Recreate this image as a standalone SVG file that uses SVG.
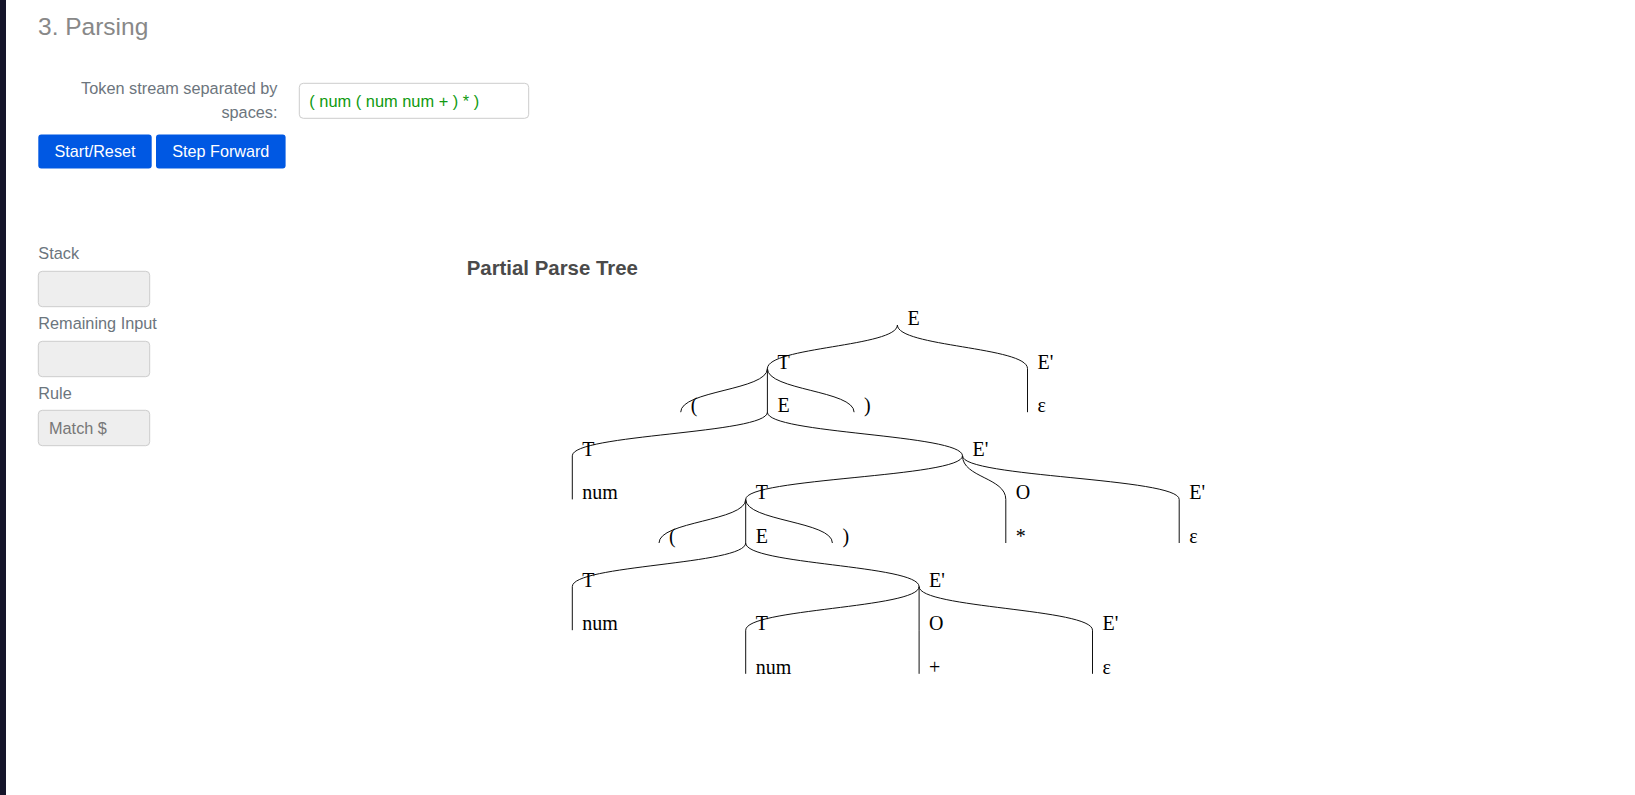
<svg xmlns="http://www.w3.org/2000/svg" width="1635" height="795" viewBox="0 0 1635 795">
<style>
.lbl{font-family:"Liberation Sans",Arial,sans-serif;font-size:16.3px;fill:#6c757d}
.box{fill:#eeeeee;stroke:#cccccc;stroke-width:1}
.btn rect{fill:#0058e3}
.btn text{font-family:"Liberation Sans",Arial,sans-serif;font-size:16.2px;fill:#ffffff;text-anchor:middle}
.node text{font-family:"Liberation Serif","Times New Roman",serif;font-size:20px;fill:#000000}
.link{fill:none;stroke:#111111;stroke-width:1}
</style>
<rect x="0" y="0" width="1635" height="795" fill="#ffffff"/>
<rect x="0" y="0" width="6" height="795" fill="#15152a"/>

<g id="header">
<text x="38" y="34.5" style="font-family:'Liberation Sans',Arial,sans-serif;font-size:24.5px;fill:#888888">3. Parsing</text>
<text class="lbl" x="277.5" y="94" text-anchor="end">Token stream separated by</text>
<text class="lbl" x="277.5" y="118" text-anchor="end">spaces:</text>
<rect x="299.3" y="83.3" width="229.4" height="35" rx="4" fill="#ffffff" stroke="#cccccc"/>
<text x="309.3" y="107" style="font-family:'Liberation Sans',Arial,sans-serif;font-size:16.4px;fill:#109a10">( num ( num num + ) * )</text>
</g>
<g id="btn-start" class="btn">
<rect x="38.3" y="134.5" width="113.4" height="34" rx="3"/>
<text x="95" y="157.2">Start/Reset</text>
</g>
<g id="btn-step" class="btn">
<rect x="156" y="134.5" width="129.6" height="34" rx="3"/>
<text x="220.8" y="157.2">Step Forward</text>
</g>

<g id="panel">
<text class="lbl" x="38.3" y="259.3">Stack</text>
<rect class="box" x="38.3" y="271.3" width="111.4" height="35.4" rx="4"/>
<text class="lbl" x="38.3" y="329.3">Remaining Input</text>
<rect class="box" x="38.3" y="341.3" width="111.4" height="35.4" rx="4"/>
<text class="lbl" x="38.3" y="399.3">Rule</text>
<rect class="box" x="38.3" y="410.3" width="111.4" height="35.4" rx="4"/>
<text x="49" y="433.5" style="font-family:'Liberation Sans',Arial,sans-serif;font-size:16.3px;fill:#777777">Match $</text>
</g>

<text x="466.7" y="275" style="font-family:'Liberation Sans',Arial,sans-serif;font-size:20.4px;font-weight:bold;fill:#4a4a4a">Partial Parse Tree</text>

<g id="links">
<path class="link" d="M897.4,325C897.4,346.8 767.4,346.8 767.4,368.6"/>
<path class="link" d="M897.4,325C897.4,346.8 1027.5,346.8 1027.5,368.6"/>
<path class="link" d="M767.4,368.6C767.4,390.4 680.7,390.4 680.7,412.2"/>
<path class="link" d="M767.4,368.6L767.4,412.2"/>
<path class="link" d="M767.4,368.6C767.4,390.4 854.1,390.4 854.1,412.2"/>
<path class="link" d="M1027.5,368.6L1027.5,412.2"/>
<path class="link" d="M767.4,412.2C767.4,434 572.3,434 572.3,455.8"/>
<path class="link" d="M767.4,412.2C767.4,434 962.5,434 962.5,455.8"/>
<path class="link" d="M572.3,455.8L572.3,499.4"/>
<path class="link" d="M962.5,455.8C962.5,477.6 745.7,477.6 745.7,499.4"/>
<path class="link" d="M962.5,455.8C962.5,477.6 1005.8,477.6 1005.8,499.4"/>
<path class="link" d="M962.5,455.8C962.5,477.6 1179.2,477.6 1179.2,499.4"/>
<path class="link" d="M745.7,499.4C745.7,521.2 659,521.2 659,543"/>
<path class="link" d="M745.7,499.4L745.7,543"/>
<path class="link" d="M745.7,499.4C745.7,521.2 832.4,521.2 832.4,543"/>
<path class="link" d="M1005.8,499.4L1005.8,543"/>
<path class="link" d="M1179.2,499.4L1179.2,543"/>
<path class="link" d="M745.7,543C745.7,564.8 572.3,564.8 572.3,586.6"/>
<path class="link" d="M745.7,543C745.7,564.8 919.1,564.8 919.1,586.6"/>
<path class="link" d="M572.3,586.6L572.3,630.2"/>
<path class="link" d="M919.1,586.6C919.1,608.4 745.7,608.4 745.7,630.2"/>
<path class="link" d="M919.1,586.6L919.1,630.2"/>
<path class="link" d="M919.1,586.6C919.1,608.4 1092.5,608.4 1092.5,630.2"/>
<path class="link" d="M745.7,630.2L745.7,673.8"/>
<path class="link" d="M919.1,630.2L919.1,673.8"/>
<path class="link" d="M1092.5,630.2L1092.5,673.8"/>
</g>

<g id="n-root" class="node"><text x="907.4" y="325">E</text></g>
<g id="n-T1" class="node"><text x="777.4" y="368.6">T</text></g>
<g id="n-Ep1" class="node"><text x="1037.5" y="368.6">E'</text></g>
<g id="n-lp1" class="node"><text x="690.7" y="412.2">(</text></g>
<g id="n-E2" class="node"><text x="777.4" y="412.2">E</text></g>
<g id="n-rp1" class="node"><text x="864.1" y="412.2">)</text></g>
<g id="n-eps1" class="node"><text x="1037.5" y="412.2">ε</text></g>
<g id="n-T2" class="node"><text x="582.3" y="455.8">T</text></g>
<g id="n-Ep2" class="node"><text x="972.5" y="455.8">E'</text></g>
<g id="n-num1" class="node"><text x="582.3" y="499.4">num</text></g>
<g id="n-T3" class="node"><text x="755.7" y="499.4">T</text></g>
<g id="n-O1" class="node"><text x="1015.8" y="499.4">O</text></g>
<g id="n-Ep3" class="node"><text x="1189.2" y="499.4">E'</text></g>
<g id="n-lp2" class="node"><text x="669" y="543">(</text></g>
<g id="n-E3" class="node"><text x="755.7" y="543">E</text></g>
<g id="n-rp2" class="node"><text x="842.4" y="543">)</text></g>
<g id="n-star" class="node"><text x="1015.8" y="543">*</text></g>
<g id="n-eps2" class="node"><text x="1189.2" y="543">ε</text></g>
<g id="n-T4" class="node"><text x="582.3" y="586.6">T</text></g>
<g id="n-Ep4" class="node"><text x="929.1" y="586.6">E'</text></g>
<g id="n-num2" class="node"><text x="582.3" y="630.2">num</text></g>
<g id="n-T5" class="node"><text x="755.7" y="630.2">T</text></g>
<g id="n-O2" class="node"><text x="929.1" y="630.2">O</text></g>
<g id="n-Ep5" class="node"><text x="1102.5" y="630.2">E'</text></g>
<g id="n-num3" class="node"><text x="755.7" y="673.8">num</text></g>
<g id="n-plus" class="node"><text x="929.1" y="673.8">+</text></g>
<g id="n-eps3" class="node"><text x="1102.5" y="673.8">ε</text></g>
</svg>
